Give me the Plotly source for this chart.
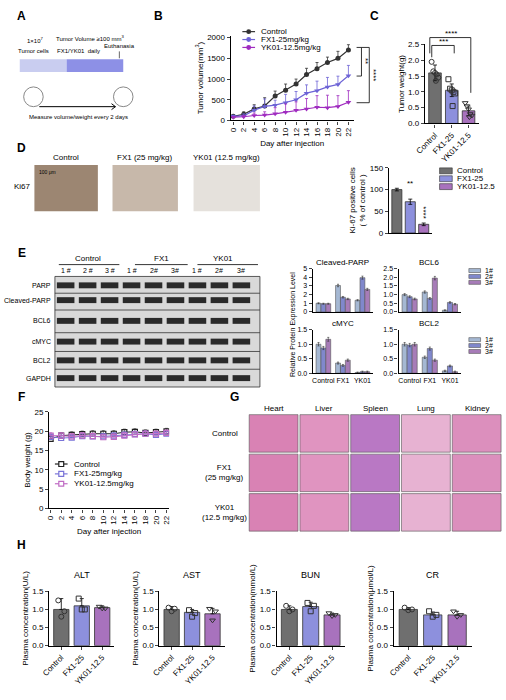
import plotly.graph_objects as go

W, H = 506, 700
FONT = "Liberation Sans"
CG, CF, CY = "#6f6f6f", "#8d90dd", "#a872bd"
LC, LF, LY = "#333333", "#6d63d6", "#a02cc0"
E1, E2, E3 = "#a5b8d3", "#8088cc", "#a77cb8"

days = list(range(0, 23, 2))
vol_ctrl = [100, 150, 280, 350, 590, 730, 880, 1110, 1250, 1400, 1500, 1700]
vol_fx1 = [100, 110, 250, 340, 370, 430, 500, 660, 720, 810, 870, 1080]
vol_yk = [80, 90, 120, 130, 160, 200, 250, 280, 320, 310, 340, 440]
err_ctrl = [30, 60, 100, 200, 120, 150, 120, 150, 150, 130, 170, 130]
err_fx1 = [30, 50, 100, 180, 120, 200, 200, 200, 230, 230, 200, 250]
err_yk = [20, 30, 60, 80, 150, 200, 200, 250, 280, 300, 260, 280]

groups = ["Control", "FX1-25", "YK01-12.5"]
tw_mean = [1.6, 1.05, 0.4]
tw_err = [0.25, 0.2, 0.15]
tw_pts = [[1.95, 1.65, 1.6, 1.55, 1.45, 1.35], [1.4, 1.1, 1.05, 1.0, 0.95, 0.55], [0.65, 0.55, 0.45, 0.3, 0.25, 0.2]]

ki67 = [100, 72, 20]
ki67_err = [3, 6, 3]

wb_groups = ["Control", "FX1", "YK01"]
wb = {
    "Cleaved-PARP": [[1.0, 0.95, 0.95], [3.05, 1.7, 1.5], [1.35, 3.95, 2.6]],
    "BCL6": [[1.0, 0.88, 0.75], [1.15, 0.78, 1.95], [0.1, 0.55, 0.45]],
    "cMYC": [[1.0, 0.87, 1.17], [0.35, 0.27, 0.45], [0.02, 0.05, 0.05]],
    "BCL2": [[1.0, 0.97, 1.0], [0.55, 0.85, 0.45], [0.08, 0.25, 0.05]],
}
wb_ymax = {"Cleaved-PARP": 5, "BCL6": 2.5, "cMYC": 1.5, "BCL2": 1.5}
wb_dtick = {"Cleaved-PARP": 1, "BCL6": 0.5, "cMYC": 0.5, "BCL2": 0.5}
reps = ["1#", "2#", "3#"]

bw_ctrl = [18.0, 18.8, 19.0, 19.2, 19.3, 19.3, 19.3, 19.7, 19.8, 19.5, 19.7, 19.9]
bw_fx1 = [18.5, 18.2, 18.3, 18.7, 18.6, 18.6, 18.8, 19.0, 19.2, 19.3, 19.0, 19.3]
bw_yk = [18.8, 18.8, 18.6, 18.8, 18.7, 18.4, 18.5, 18.8, 19.1, 19.3, 19.3, 19.5]

plasma = {
    "ALT": ([1.0, 1.1, 1.05], [0.3, 0.2, 0.05], [[1.25, 0.95, 0.8], [1.3, 1.0, 1.0], [1.08, 1.03, 1.03]]),
    "AST": ([1.0, 0.92, 0.88], [0.08, 0.08, 0.15], [[1.05, 1.02, 0.95], [0.98, 0.9, 0.8], [1.02, 0.95, 0.7]]),
    "BUN": ([1.0, 1.08, 0.85], [0.1, 0.12, 0.05], [[1.1, 1.0, 0.95], [1.18, 1.1, 0.95], [0.9, 0.85, 0.82]]),
    "CR": ([1.0, 0.85, 0.85], [0.05, 0.08, 0.1], [[1.05, 1.0, 0.98], [0.95, 0.85, 0.8], [0.95, 0.85, 0.8]]),
}
plasma_units = {"ALT": "U/L", "AST": "U/L", "BUN": "mmol/L", "CR": "μmol/L"}

fig = go.Figure()
layout = {}
shapes, annos = [], []
n_ax = [0]


def px(x):
    return x / W


def py(y):
    return 1 - y / H


def new_axes(x0, x1, y0, y1, xopt=None, yopt=None):
    n_ax[0] += 1
    n = n_ax[0]
    s = "" if n == 1 else str(n)
    base = dict(showline=True, linecolor="black", linewidth=1.2, ticks="outside", ticklen=3,
                tickfont=dict(size=8, family=FONT, color="black"), showgrid=False, zeroline=False)
    xa = dict(base, domain=[px(x0), px(x1)], anchor="y" + s)
    ya = dict(base, domain=[py(y1), py(y0)], anchor="x" + s)
    xa.update(xopt or {})
    ya.update(yopt or {})
    layout["xaxis" + s] = xa
    layout["yaxis" + s] = ya
    return "x" + s, "y" + s


def txt(x, y, t, size=8, **kw):
    kw.setdefault("yanchor", "middle")
    kw.setdefault("xanchor", "center")
    annos.append(dict(x=px(x), y=py(y), xref="paper", yref="paper", text=t, showarrow=False,
                      font=dict(size=size, family=FONT, color="black"), **kw))


def rect(x0, y0, x1, y1, fill, line=None, lw=0):
    shapes.append(dict(type="rect", xref="paper", yref="paper", x0=px(x0), x1=px(x1), y0=py(y1), y1=py(y0),
                       fillcolor=fill, line=dict(color=line or fill, width=lw)))


def line(pts, w=0.8, c="black"):
    path = "M " + " L ".join("%f %f" % (px(a), py(b)) for a, b in pts)
    shapes.append(dict(type="path", xref="paper", yref="paper", path=path, line=dict(color=c, width=w)))


def legend_manual(x, y0, dy, items, sym):
    for j, (name, c) in enumerate(items):
        y = y0 + dy * j
        line([(x, y), (x + 13, y)], 1.2, c)
        if sym == "circle":
            shapes.append(dict(type="circle", xref="paper", yref="paper", x0=px(x + 4), x1=px(x + 9), y0=py(y + 2.5), y1=py(y - 2.5),
                               fillcolor=c, line=dict(color=c, width=0)))
        else:
            rect(x + 4, y - 2.5, x + 9, y + 2.5, "white", c, 1.2)
        txt(x + 17, y, name, 8, xanchor="left")


# panel letters
for L, x, y in [("A", 12, 12), ("B", 152, 12), ("C", 373, 12), ("D", 12, 146), ("E", 12, 252),
                ("F", 12, 398), ("G", 230, 398), ("H", 12, 548)]:
    txt(x, y, "<b>%s</b>" % L, size=12)

# ---- A schematic
txt(26, 36, "1×10<sup>7</sup>", 6)
txt(24, 48, "Tumor cells", 6)
txt(82, 34, "Tumor Volume ≥100 mm<sup>3</sup>", 6)
txt(70, 48, "FX1/YK01  daily", 6)
txt(112, 43, "Euthanasia", 6)
line([(112, 48), (112, 55)], 0.6)
rect(10, 56, 58, 69, "#c9cdf0")
rect(58, 56, 116, 69, "#8d90e6")
txt(70, 114, "Measure volume/weight every 2 days", 6)
line([(30, 104), (108, 104)], 1)
line([(104, 101), (108, 104), (104, 107)], 1)
for cx in [24, 116]:
    shapes.append(dict(type="circle", xref="paper", yref="paper", x0=px(cx - 10), x1=px(cx + 10), y0=py(104), y1=py(84),
                       line=dict(color="#888", width=1), fillcolor="white"))

# ---- B tumor volume
xb, yb = new_axes(226, 352, 32, 118,
                  dict(range=[-0.5, 23], tickvals=days, tickangle=-90, title=dict(text="Day after injection", font=dict(size=8, family=FONT), standoff=4)),
                  dict(range=[0, 2050], tickvals=[0, 500, 1000, 1500, 2000], title=dict(text="Tumor volume(mm<sup>3</sup>)", font=dict(size=8, family=FONT), standoff=2)))
for name, v, e, c, sym in [("Control", vol_ctrl, err_ctrl, LC, "circle"), ("FX1-25mg/kg", vol_fx1, err_fx1, LF, "triangle-down"),
                           ("YK01-12.5mg/kg", vol_yk, err_yk, LY, "triangle-down")]:
    fig.add_trace(go.Scatter(x=days, y=v, xaxis=xb, yaxis=yb, name=name, mode="lines+markers",
                             line=dict(color=c, width=1.2), marker=dict(color=c, size=5, symbol=sym),
                             error_y=dict(type="data", array=e, symmetric=False, arrayminus=[0] * len(e), color=c, thickness=0.8, width=1.5),
                             showlegend=False))
legend_manual(238, 28, 8, [("Control", LC), ("FX1-25mg/kg", LF), ("YK01-12.5mg/kg", LY)], "circle")
txt(364, 58, "**", 8, textangle=90)
txt(373, 72, "****", 8, textangle=90)
line([(355, 44), (360, 44), (360, 73), (355, 73)])
line([(360, 44), (368, 44), (368, 100), (355, 100)])

# ---- C tumor weight
xc, yc = new_axes(425, 480, 41, 121,
                  dict(range=[-0.6, 2.6], tickvals=[0, 1, 2], ticktext=groups, tickangle=-45),
                  dict(range=[0, 2.5], dtick=0.5, tickformat=".1f", title=dict(text="Tumor weight(g)", font=dict(size=8, family=FONT), standoff=2)))
gcols = [CG, CF, CY]
syms = ["circle-open", "square-open", "triangle-down-open"]
fig.add_trace(go.Bar(x=[0, 1, 2], y=tw_mean, xaxis=xc, yaxis=yc, marker=dict(color=gcols, line=dict(color="#333", width=0.8)),
                     width=0.75, error_y=dict(type="data", array=tw_err, color="black", thickness=0.8, width=2), showlegend=False))
for i, pts in enumerate(tw_pts):
    offs = [-0.2, -0.1, 0, 0.1, 0.2, 0.05][:len(pts)]
    fig.add_trace(go.Scatter(x=[i + o for o in offs], y=pts, xaxis=xc, yaxis=yc, mode="markers",
                             marker=dict(symbol=syms[i], size=5, color="#333"), showlegend=False))
txt(444, 38, "***", 8)
txt(452, 30, "****", 8)
line([(432, 54), (432, 42), (455, 42), (455, 50)])
line([(430, 50), (430, 34), (472, 34), (472, 90)])

# ---- D IHC images placeholders
txt(57, 156, "Control", 8)
txt(138, 156, "FX1 (25 mg/kg)", 8)
txt(222, 156, "YK01 (12.5 mg/kg)", 8)
txt(13, 185, "Ki67", 8)
rect(25, 163, 90, 210, "#9c8672")
rect(105, 163, 172, 210, "#c7b8aa")
rect(188, 163, 256, 210, "#e5e1dc")
txt(38, 170, "100 μm", 5)

xd, yd = new_axes(388, 432, 166, 232,
                  dict(range=[-0.6, 2.6], showticklabels=False, ticks=""),
                  dict(range=[0, 150], dtick=50, title=dict(text="Ki-67 positive cells<br>( % of control )", font=dict(size=8, family=FONT), standoff=2)))
for i in range(3):
    fig.add_trace(go.Bar(x=[i], y=[ki67[i]], xaxis=xd, yaxis=yd, name=groups[i], marker=dict(color=gcols[i], line=dict(color="#333", width=0.8)),
                         width=0.75, error_y=dict(type="data", array=[ki67_err[i]], color="black", thickness=0.8, width=2),
                         showlegend=False))
    rect(440, 166 + 8 * i, 453, 172 + 8 * i, gcols[i], "#333", 0.6)
    txt(456, 169 + 8 * i, groups[i], 8, xanchor="left")
txt(410, 182, "**", 8)
txt(424, 211, "****", 8, textangle=90)

# ---- E western blot placeholder
txt(80, 258, "Control", 8)
txt(155, 258, "FX1", 8)
txt(218, 258, "YK01", 8)
for x0, x1 in [(50, 112), (128, 182), (192, 254)]:
    line([(x0, 264), (x1, 264)])
for i, lab in enumerate(["1 #", "2 #", "3 #", "1 #", "2#", "3#", "1 #", "2#", "3#"]):
    txt(57 + i * 22.5, 270, lab, 7)
rows = ["PARP", "Cleaved-PARP", "BCL6", "cMYC", "BCL2", "GAPDH"]
ry = [285, 300, 321, 342, 361, 379]
for r, y in zip(rows, ry):
    txt(44, y, r, 7, xanchor="right")
rect(46, 276, 256, 388, "#d9d9d9", "#333", 0.8)
for y in [293, 310, 333, 352, 370]:
    line([(46, y), (256, y)], 0.8, "#333")
for r, y in zip(rows, ry):
    for i in range(9):
        rect(48 + i * 22.5, y - 3, 66 + i * 22.5, y + 3, "#2a2a2a")

# ---- E bar charts
txt(290, 325, "Relative Protein Expression Level", 7, textangle=-90)
pos = {"Cleaved-PARP": (310, 372, 268, 312), "BCL6": (398, 462, 268, 312),
       "cMYC": (310, 372, 330, 374), "BCL2": (398, 462, 330, 374)}
for k, (x0, x1, y0, y1) in pos.items():
    bottom = k in ("cMYC", "BCL2")
    xa, ya = new_axes(x0, x1, y0, y1,
                      dict(range=[-0.55, 2.55], tickvals=[0, 1, 2], ticktext=wb_groups, tickangle=0, showticklabels=bottom,
                           ticks="", tickfont=dict(size=7, family=FONT, color="black")),
                      dict(range=[0, wb_ymax[k]], dtick=wb_dtick[k], tickformat=".1f" if wb_dtick[k] < 1 else "d",
                           tickfont=dict(size=7, family=FONT, color="black")))
    txt((x0 + x1) / 2, y0 - 6, k, 8)
    for j, c in enumerate([E1, E2, E3]):
        vals = [wb[k][g][j] for g in range(3)]
        fig.add_trace(go.Bar(x=[0, 1, 2], y=vals, xaxis=xa, yaxis=ya, marker=dict(color=c, line=dict(color="#555", width=0.6)),
                             error_y=dict(type="data", array=[v * 0.04 + 0.02 for v in vals], color="#333", thickness=0.6, width=1),
                             showlegend=False, offsetgroup=str(j)))
for ly in [268, 338]:
    for j, c in enumerate([E1, E2, E3]):
        rect(470, ly + 6 * j, 482, ly + 4 + 6 * j, c, "#555", 0.6)
        txt(485, ly + 2 + 6 * j, reps[j], 7, xanchor="left")
layout["barmode"] = "group"

# ---- F body weight
xf, yf = new_axes(40, 163, 413, 511,
                  dict(range=[-0.3, 22.5], tickvals=days, tickangle=-90, title=dict(text="Day after injection", font=dict(size=8, family=FONT), standoff=4)),
                  dict(range=[0, 25], dtick=5, title=dict(text="Body weight (g)", font=dict(size=8, family=FONT), standoff=2)))
fcols = [("Control", "#222"), ("FX1-25mg/kg", "#7a74d8"), ("YK01-12.5mg/kg", "#c06cc4")]
for (name, c), v in zip(fcols, [bw_ctrl, bw_fx1, bw_yk]):
    fig.add_trace(go.Scatter(x=days, y=v, xaxis=xf, yaxis=yf, mode="lines+markers", showlegend=False,
                             line=dict(color=c, width=1), marker=dict(symbol="square-open", size=5, color=c, line=dict(width=1.2)),
                             error_y=dict(type="data", array=[0.8] * len(v), symmetric=False, arrayminus=[0] * len(v), color=c, thickness=0.6, width=1.5)))
legend_manual(46, 466, 10, fcols, "square")

# ---- G H&E placeholders
organs = ["Heart", "Liver", "Spleen", "Lung", "Kidney"]
ocol = ["#d982b4", "#e094c0", "#b978c4", "#e7b2d2", "#dc8fbd"]
for i, o in enumerate(organs):
    x0 = 245 + i * 52
    txt(x0 + 25, 410, o, 8)
    for r in range(3):
        rect(x0, 416 + r * 40, x0 + 50, 454 + r * 40, ocol[i], "#555", 0.6)
for r, lab in enumerate(["Control", "FX1<br>(25 mg/kg)", "YK01<br>(12.5 mg/kg)"]):
    txt(220, 435 + r * 40, lab, 8)

# ---- H plasma
hx = [(40, 107), (153, 220), (273, 343), (393, 473)]
for (k, (m, e, pts)), (x0, x1) in zip(plasma.items(), hx):
    xa, ya = new_axes(x0, x1, 595, 650,
                      dict(range=[-0.6, 2.6], tickvals=[0, 1, 2], ticktext=groups, tickangle=-45),
                      dict(range=[0, 1.5], dtick=0.5, tickformat=".1f",
                           title=dict(text="Plasma concentration(%s)" % plasma_units[k], font=dict(size=8, family=FONT), standoff=2)))
    txt((x0 + x1) / 2, 578, k, 9)
    fig.add_trace(go.Bar(x=[0, 1, 2], y=m, xaxis=xa, yaxis=ya, marker=dict(color=gcols, line=dict(color="#333", width=0.8)),
                         width=0.75, error_y=dict(type="data", array=e, symmetric=False, arrayminus=[0, 0, 0], color="black", thickness=0.8, width=2),
                         showlegend=False))
    for i, p in enumerate(pts):
        fig.add_trace(go.Scatter(x=[i - 0.15, i + 0.15, i][:len(p)], y=p, xaxis=xa, yaxis=ya, mode="markers",
                                 marker=dict(symbol=syms[i], size=5, color="#333"), showlegend=False))

layout.update(dict(width=W, height=H, margin=dict(l=0, r=0, t=0, b=0), plot_bgcolor="white", paper_bgcolor="white",
                   font=dict(family=FONT, size=8, color="black"), shapes=shapes, annotations=annos, bargap=0.25,
                   showlegend=False))
fig.update_layout(**layout)
fig.write_html("out.html", config={"displayModeBar": False},
               post_script="document.body.style.margin='0';document.body.style.overflow='hidden';")
